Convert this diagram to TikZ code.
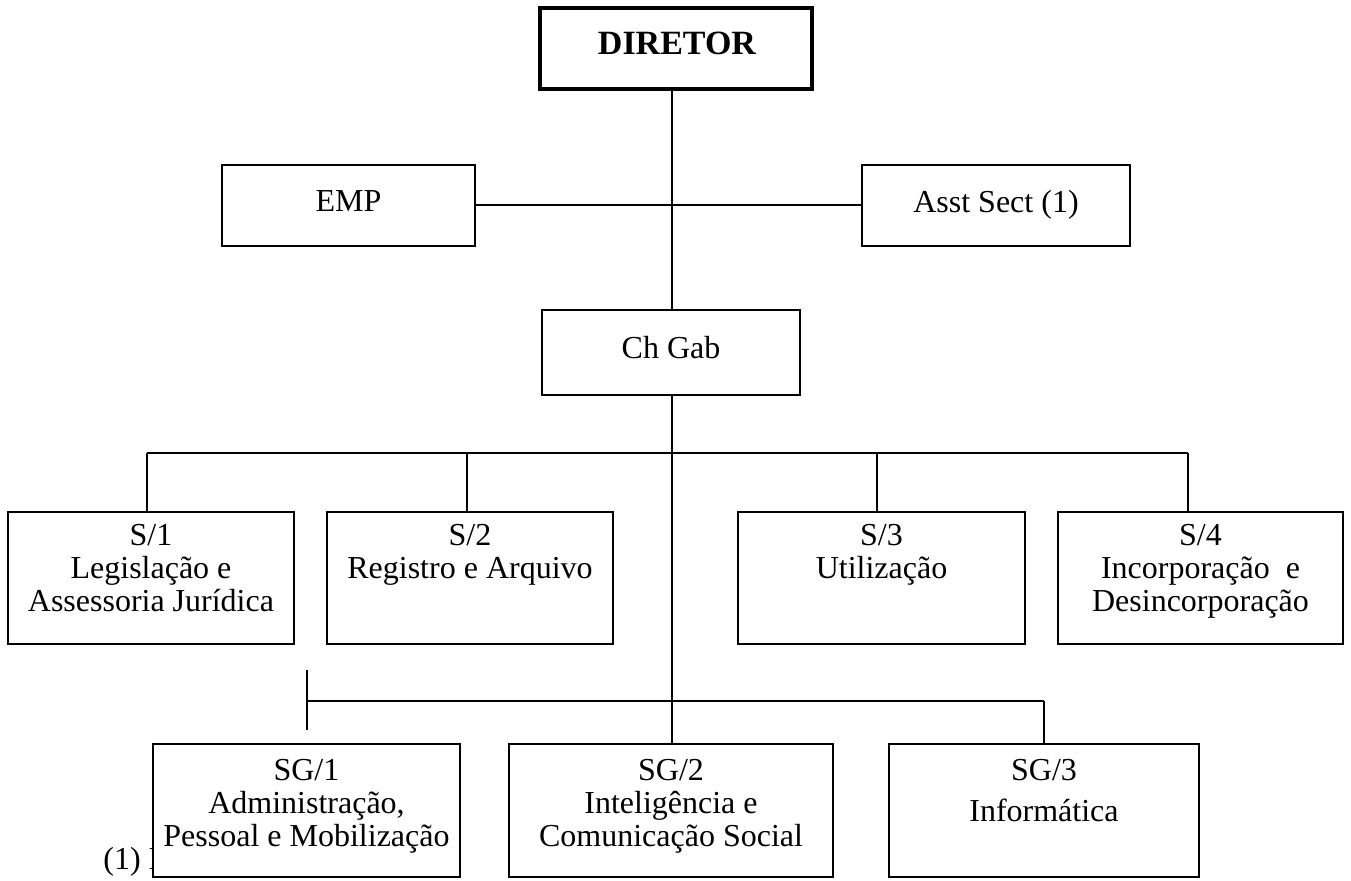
\documentclass[tikz,border=0pt]{standalone}
\usepackage{fontspec}
\setmainfont{Liberation Serif}
\usetikzlibrary{fit}
\begin{document}
\begin{tikzpicture}[x=0.5pt,y=-0.5pt,
  box/.style={draw, fill=white, line width=1pt, inner sep=0pt},
  bigbox/.style={draw, fill=white, line width=1.8pt, inner sep=0pt},
  txt/.style={font=\fontsize{16}{16.5}\selectfont, align=center, inner sep=0pt, anchor=north},
  conn/.style={line width=1pt}]
\useasboundingbox[fill=white] (0,0) rectangle (1351,881);
% spine reference
\coordinate (sp) at (672,0);
% boxes
\node[bigbox, fit={(540,8) (812,89)}] (dir) {};
\node[box, fit={(222,165) (475,246)}] (emp) {};
\node[box, fit={(862,165) (1130,246)}] (asst) {};
\node[box, fit={(542,310) (800,395)}] (chgab) {};
\node[box, fit={(8,512) (294,644)}] (s1) {};
\node[box, fit={(327,512) (613,644)}] (s2) {};
\node[box, fit={(738,512) (1025,644)}] (s3) {};
\node[box, fit={(1058,512) (1343,644)}] (s4) {};
% footnote (partly hidden behind SG/1)
\node[font=\fontsize{16}{16.5}\selectfont, inner sep=0pt, anchor=base west] (note) at (103,870) {(1) I};
\node[box, fit={(153,744) (460,877)}] (sg1) {};
\node[box, fit={(509,744) (833,877)}] (sg2) {};
\node[box, fit={(889,744) (1199,877)}] (sg3) {};
% connectors
\draw[conn] (dir.south -| sp) -- (chgab.north -| sp);
\draw[conn] (emp.east) -- (asst.west);
\draw[conn] (chgab.south -| sp) -- (sg2.north -| sp);
\coordinate (t1) at (147,453);
\coordinate (t2) at (467,453);
\coordinate (t3) at (877,453);
\coordinate (t4) at (1188,453);
\draw[conn] (t1) -- (t4);
\draw[conn] (t1) -- (t1 |- s1.north);
\draw[conn] (t2) -- (t2 |- s2.north);
\draw[conn] (t3) -- (t3 |- s3.north);
\draw[conn] (t4) -- (t4 |- s4.north);
\coordinate (u1) at (307,701);
\coordinate (u1a) at (307,670);
\coordinate (u1b) at (307,730);
\coordinate (u3) at (1044,701);
\draw[conn] (u1) -- (u3);
\draw[conn] (u1a) -- (u1b);
\draw[conn] (u3) -- (u3 |- sg3.north);
% texts
\node[txt, font=\fontsize{17}{17.5}\selectfont\bfseries] (dirt) at (677,32) {DIRETOR};
\node[txt] (empt) at (emp.north |- 0,190) {EMP};
\node[txt] (asstt) at (asst.north |- 0,190) {Asst Sect (1)};
\node[txt] (chgabt) at (chgab.north |- 0,336) {Ch Gab};
\node[txt] (s1t) at (s1.north |- 0,524) {S/1\\Legislação e\\Assessoria Jurídica};
\node[txt] (s2t) at (s2.north |- 0,524) {S/2\\Registro e Arquivo};
\node[txt] (s3t) at (s3.north |- 0,524) {S/3\\Utilização};
\node[txt] (s4t) at (s4.north |- 0,524) {S/4\\Incorporação\ \ e\\Desincorporação};
\node[txt] (sg1t) at (sg1.north |- 0,759) {SG/1\\Administração,\\Pessoal e Mobilização};
\node[txt] (sg2t) at (sg2.north |- 0,759) {SG/2\\Inteligência e\\Comunicação Social};
\node[txt] (sg3t) at (sg3.north |- 0,759) {SG/3\\[4pt]Informática};
\end{tikzpicture}
\end{document}
